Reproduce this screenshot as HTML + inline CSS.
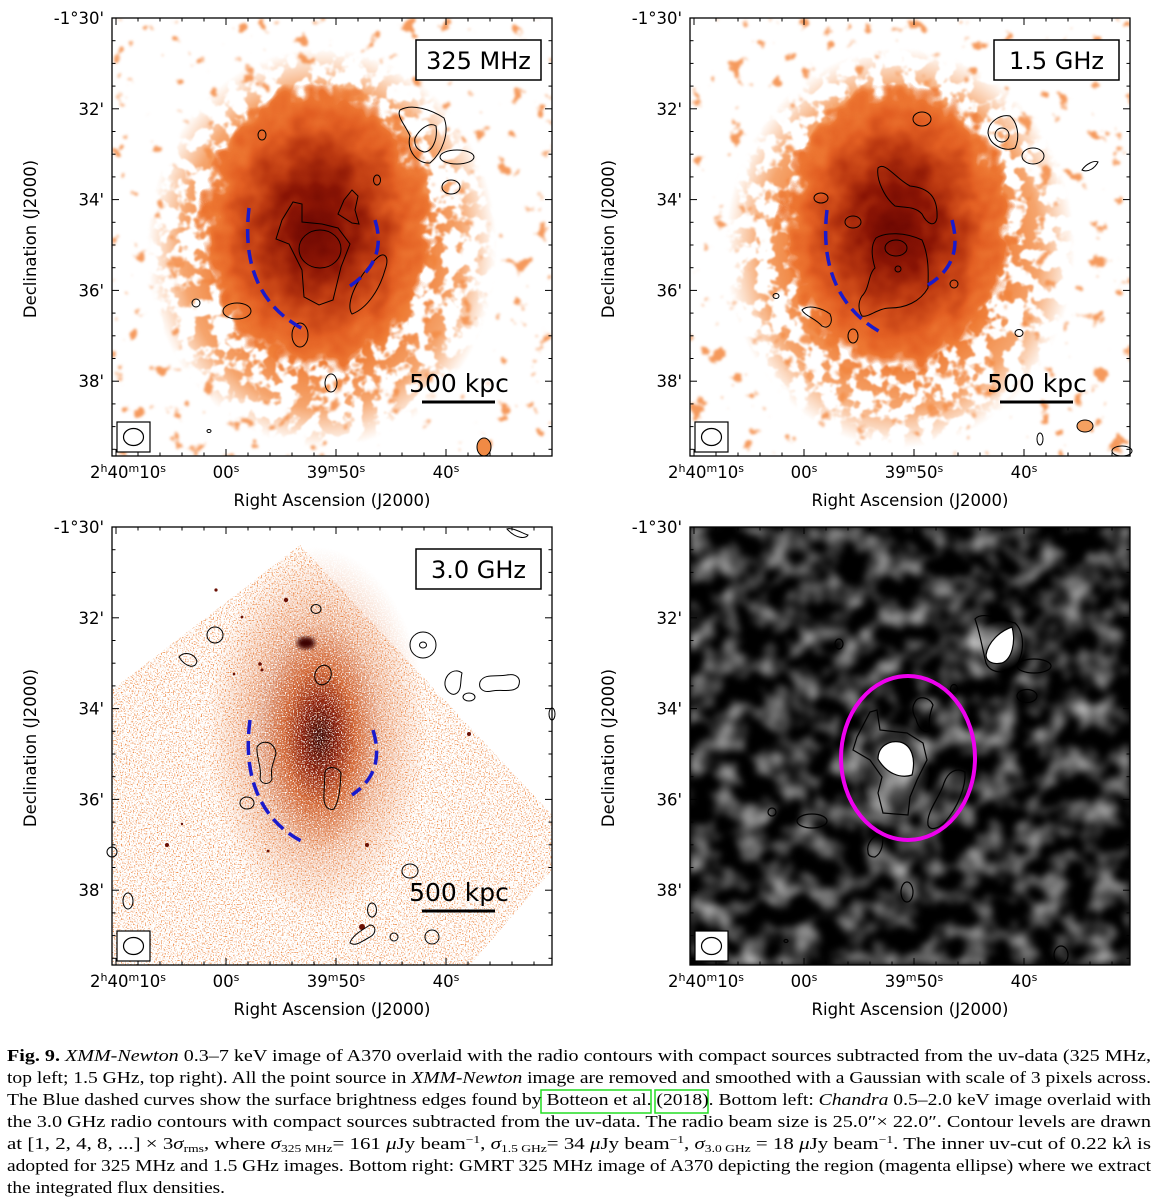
<!DOCTYPE html>
<html><head><meta charset="utf-8">
<style>
html,body{margin:0;padding:0;background:#fff;}
svg{display:block;}
</style></head>
<body>
<svg id="fig" width="1158" height="1200" viewBox="0 0 1158 1200" xmlns="http://www.w3.org/2000/svg" font-family="'DejaVu Sans','Liberation Sans',sans-serif">
<defs>
  <filter id="patchA" x="0" y="0" width="100%" height="100%" color-interpolation-filters="sRGB">
    <feTurbulence type="fractalNoise" baseFrequency="0.055" numOctaves="3" seed="7"/>
    <feColorMatrix type="matrix" values="0 0 0 0 0.96  0 0 0 0 0.6  0 0 0 0 0.36  12 0 0 0 -8.0"/>
    <feGaussianBlur stdDeviation="1.2"/>
  </filter>
  <filter id="patchA2" x="0" y="0" width="100%" height="100%" color-interpolation-filters="sRGB">
    <feTurbulence type="fractalNoise" baseFrequency="0.055" numOctaves="3" seed="21"/>
    <feColorMatrix type="matrix" values="0 0 0 0 0.96  0 0 0 0 0.6  0 0 0 0 0.36  12 0 0 0 -8.0"/>
    <feGaussianBlur stdDeviation="1.2"/>
  </filter>
  <filter id="patchB" x="-10%" y="-10%" width="120%" height="120%" color-interpolation-filters="sRGB">
    <feTurbulence type="fractalNoise" baseFrequency="0.06" numOctaves="3" seed="4"/>
    <feColorMatrix type="matrix" values="0 0 0 0 0  0 0 0 0 0  0 0 0 0 0  10 0 0 0 -4.6" result="g"/>
    <feComposite in="SourceGraphic" in2="g" operator="in"/>
    <feGaussianBlur stdDeviation="0.8"/>
  </filter>
  <filter id="patchB2" x="-10%" y="-10%" width="120%" height="120%" color-interpolation-filters="sRGB">
    <feTurbulence type="fractalNoise" baseFrequency="0.06" numOctaves="3" seed="13"/>
    <feColorMatrix type="matrix" values="0 0 0 0 0  0 0 0 0 0  0 0 0 0 0  10 0 0 0 -4.6" result="g"/>
    <feComposite in="SourceGraphic" in2="g" operator="in"/>
    <feGaussianBlur stdDeviation="0.8"/>
  </filter>
  <filter id="core" x="-20%" y="-20%" width="140%" height="140%" color-interpolation-filters="sRGB">
    <feTurbulence type="fractalNoise" baseFrequency="0.05" numOctaves="2" seed="9" result="t"/>
    <feDisplacementMap in="SourceGraphic" in2="t" scale="40" xChannelSelector="R" yChannelSelector="G"/>
    <feComponentTransfer><feFuncA type="table" tableValues="0 0 0.7 1 1"/></feComponentTransfer>
  </filter>
  <filter id="grain" x="0" y="0" width="100%" height="100%" color-interpolation-filters="sRGB">
    <feTurbulence type="fractalNoise" baseFrequency="0.75" numOctaves="1" seed="3"/>
    <feColorMatrix type="matrix" values="0 0 0 0 0  0 0 0 0 0  0 0 0 0 0  5 0 0 0 -2.6" result="g"/>
    <feComposite in="SourceGraphic" in2="g" operator="in"/>
  </filter>
  <filter id="grainC" x="-10%" y="-10%" width="120%" height="120%" color-interpolation-filters="sRGB">
    <feTurbulence type="fractalNoise" baseFrequency="0.75" numOctaves="1" seed="8"/>
    <feColorMatrix type="matrix" values="0 0 0 0 0  0 0 0 0 0  0 0 0 0 0  4 0 0 0 -1.2" result="g"/>
    <feComposite in="SourceGraphic" in2="g" operator="in"/>
  </filter>
  <filter id="mottle" x="0" y="0" width="100%" height="100%" color-interpolation-filters="sRGB">
    <feTurbulence type="fractalNoise" baseFrequency="0.04" numOctaves="2" seed="11"/>
    <feColorMatrix type="matrix" values="1.5 0 0 0 -0.6  1.5 0 0 0 -0.6  1.5 0 0 0 -0.6  0 0 0 0 1"/>
    <feGaussianBlur stdDeviation="3"/>
  </filter>
  <filter id="soft2"><feGaussianBlur stdDeviation="2.5"/></filter>

  <radialGradient id="midCol">
    <stop offset="0" stop-color="#e2621e"/>
    <stop offset="0.55" stop-color="#ee7a32"/>
    <stop offset="0.8" stop-color="#f38e48" stop-opacity="0.8"/>
    <stop offset="1" stop-color="#f69a58" stop-opacity="0"/>
  </radialGradient>
  <radialGradient id="coreCol" cx="0.5" cy="0.48" r="0.5">
    <stop offset="0" stop-color="#6e0802"/>
    <stop offset="0.25" stop-color="#8a1404"/>
    <stop offset="0.5" stop-color="#bb3810"/>
    <stop offset="0.72" stop-color="#e25e22"/>
    <stop offset="0.86" stop-color="#ec7430" stop-opacity="0.8"/>
    <stop offset="1" stop-color="#f08038" stop-opacity="0"/>
  </radialGradient>
  <radialGradient id="blCol" cx="0.5" cy="0.5" r="0.5">
    <stop offset="0" stop-color="#3a0400"/>
    <stop offset="0.3" stop-color="#8a1a05"/>
    <stop offset="0.6" stop-color="#d45a1e" stop-opacity="0.8"/>
    <stop offset="1" stop-color="#e8783a" stop-opacity="0"/>
  </radialGradient>
  <radialGradient id="brGlow" cx="0.5" cy="0.5" r="0.5">
    <stop offset="0" stop-color="#fff" stop-opacity="0.9"/>
    <stop offset="1" stop-color="#fff" stop-opacity="0"/>
  </radialGradient>

  <clipPath id="clipPanel"><rect x="0" y="0" width="440" height="438"/></clipPath>
  <clipPath id="clipDiamond"><polygon points="188,18 440,288 440,343 358,438 0,438 0,163"/></clipPath>
</defs>

<!-- ================= TOP LEFT ================= -->
<g id="panel-tl" transform="translate(112,18)">
  <g clip-path="url(#clipPanel)">
    <rect width="440" height="438" fill="#fff"/>
    <rect width="440" height="438" fill="#000" filter="url(#patchA)"/>
    <ellipse cx="210" cy="230" rx="175" ry="200" fill="url(#midCol)" filter="url(#patchB)"/>
    <ellipse cx="205" cy="215" rx="120" ry="150" fill="url(#coreCol)" filter="url(#core)"/>
  </g>
  <g fill="none" stroke="#000" stroke-width="1">
    <path d="M164,221 L170,202 L181,184 L190,186 L190,204 L210,206 L226,210 L238,226 L229,249 L221,282 L207,287 L192,279 L190,252 L177,226 Z"/>
    <path d="M226,196 L232,182 L240,172 L246,178 L243,192 L247,206 L240,205 Z"/>
    <ellipse cx="208" cy="231" rx="21" ry="19"/>
    <path d="M240,296 C232,285 248,255 265,240 C272,233 278,238 273,252 C268,270 256,290 240,296 Z"/>
    <path d="M288,92 C300,85 320,92 332,100 C338,115 330,135 318,145 C305,146 294,132 298,118 C294,108 284,98 288,92 Z"/>
    <path d="M303,120 C308,110 318,104 324,108 C326,122 320,134 312,134 C304,132 302,126 303,120 Z"/>
    <ellipse cx="345" cy="139" rx="17" ry="7"/>
    <ellipse cx="339" cy="169" rx="9" ry="7"/>
    <ellipse cx="125" cy="293" rx="14" ry="8"/>
    <ellipse cx="188" cy="317" rx="8" ry="12"/>
    <ellipse cx="219" cy="365" rx="6" ry="9"/>
    <ellipse cx="84" cy="285" rx="4" ry="4"/>
    <ellipse cx="265" cy="162" rx="3.5" ry="5"/>
    <ellipse cx="150" cy="117" rx="4" ry="5"/>
    <ellipse cx="97" cy="413" rx="2" ry="1.5"/>
    <ellipse cx="372" cy="429" rx="7" ry="9" fill="#f08a45"/>
  </g>
  <g fill="none" stroke="#1a1acc" stroke-width="3.5" stroke-dasharray="14,7">
    <path d="M137,190 C130,250 150,290 193,312"/>
    <path d="M263,202 C272,230 262,252 238,268"/>
  </g>
</g>

<!-- ================= TOP RIGHT ================= -->
<g id="panel-tr" transform="translate(690,18)">
  <g clip-path="url(#clipPanel)">
    <rect width="440" height="438" fill="#fff"/>
    <rect width="440" height="438" fill="#000" filter="url(#patchA2)"/>
    <ellipse cx="210" cy="230" rx="175" ry="200" fill="url(#midCol)" filter="url(#patchB2)"/>
    <ellipse cx="207" cy="215" rx="120" ry="150" fill="url(#coreCol)" filter="url(#core)"/>
  </g>
  <g fill="none" stroke="#000" stroke-width="1">
    <path d="M188,150 C195,143 205,160 220,168 C240,170 248,180 247,200 C245,210 237,206 232,196 C225,188 215,190 205,188 C195,180 186,162 188,150 Z"/>
    <path d="M172,278 C180,270 178,256 185,250 C182,240 180,228 186,220 C196,214 215,214 232,222 C240,240 238,260 238,270 C230,284 215,290 200,290 C188,290 178,300 172,298 C168,292 168,284 172,278 Z"/>
    <ellipse cx="206" cy="230" rx="11" ry="8"/>
    <ellipse cx="208" cy="251" rx="3" ry="3"/>
    <path d="M298,115 C298,104 310,96 320,98 C328,105 330,120 325,130 C315,134 300,128 298,115 Z"/>
    <ellipse cx="312" cy="117" rx="7" ry="7"/>
    <ellipse cx="343" cy="138" rx="11" ry="8"/>
    <ellipse cx="232" cy="101" rx="9" ry="7"/>
    <ellipse cx="131" cy="180" rx="7" ry="5"/>
    <ellipse cx="163" cy="204" rx="8" ry="6"/>
    <path d="M112,292 C118,286 132,290 140,296 C144,305 138,312 132,308 C125,300 115,298 112,292 Z"/>
    <ellipse cx="163" cy="318" rx="5" ry="7"/>
    <ellipse cx="264" cy="266" rx="4" ry="4"/>
    <ellipse cx="329" cy="315" rx="4" ry="3.5"/>
    <ellipse cx="395" cy="408" rx="8" ry="6" fill="#f5a060"/>
    <ellipse cx="350" cy="421" rx="3" ry="6"/>
    <ellipse cx="432" cy="433" rx="10" ry="5"/>
    <path d="M392,152 C396,146 404,142 408,144 C405,150 398,155 392,152 Z"/>
    <ellipse cx="86" cy="278" rx="3" ry="2.5"/>
  </g>
  <g fill="none" stroke="#1a1acc" stroke-width="3.5" stroke-dasharray="14,7">
    <path d="M137,192 C130,250 150,292 192,315"/>
    <path d="M262,202 C270,232 262,252 238,267"/>
  </g>
</g>

<!-- ================= BOTTOM LEFT ================= -->
<g id="panel-bl" transform="translate(112,527)">
  <g clip-path="url(#clipPanel)">
    <rect width="440" height="438" fill="#fff"/>
    <g clip-path="url(#clipDiamond)">
      <rect width="440" height="438" fill="#ee9050" filter="url(#grain)"/>
    </g>
    <ellipse cx="205" cy="205" rx="110" ry="185" fill="url(#blCol)" opacity="0.5" filter="url(#grainC)"/>
    <ellipse cx="208" cy="210" rx="60" ry="115" fill="url(#blCol)" filter="url(#grainC)"/>
    <ellipse cx="194" cy="116" rx="9" ry="6" fill="#3a0400" filter="url(#soft2)"/>
    <g fill="#6a1004">
      <circle cx="174" cy="73" r="2.2"/><circle cx="104" cy="63" r="1.6"/><circle cx="130" cy="90" r="1.4"/>
      <circle cx="148" cy="137" r="1.8"/><circle cx="150" cy="143" r="1.5"/><circle cx="122" cy="147" r="1.3"/>
      <circle cx="357" cy="207" r="2"/><circle cx="55" cy="318" r="2"/><circle cx="255" cy="318" r="2"/>
      <circle cx="156" cy="324" r="1.4"/><circle cx="250" cy="400" r="3"/><circle cx="70" cy="297" r="1.2"/>
    </g>
  </g>
  <g fill="none" stroke="#000" stroke-width="1">
    <ellipse cx="211" cy="148" rx="8" ry="10" transform="rotate(20 211 148)"/>
    <ellipse cx="204" cy="82" rx="5" ry="4.5"/>
    <ellipse cx="103" cy="108" rx="8" ry="8"/>
    <path d="M67,130 C72,124 82,126 85,134 C84,142 74,141 67,130 Z"/>
    <ellipse cx="311" cy="118" rx="13" ry="13"/>
    <ellipse cx="311" cy="118" rx="3.5" ry="3"/>
    <path d="M333,158 C332,148 342,140 350,146 C348,154 350,162 345,166 C340,170 334,164 333,158 Z"/>
    <path d="M368,155 C372,146 385,150 395,148 C405,146 410,152 406,160 C400,166 390,162 380,164 C372,166 366,162 368,155 Z"/>
    <ellipse cx="357" cy="170" rx="6" ry="4"/>
    <path d="M145,220 C150,212 162,214 164,226 C162,236 158,240 160,252 C158,258 150,258 148,252 C150,240 144,230 145,220 Z"/>
    <path d="M213,245 C216,238 226,240 229,246 C228,260 228,272 222,282 C215,284 211,278 212,266 Z"/>
    <ellipse cx="135" cy="276" rx="7" ry="6"/>
    <ellipse cx="298" cy="344" rx="8" ry="7"/>
    <ellipse cx="16" cy="374" rx="5" ry="8"/>
    <ellipse cx="260" cy="383" rx="4.5" ry="7"/>
    <path d="M238,416 C240,408 252,402 258,398 C264,398 265,406 258,410 C250,414 244,420 238,416 Z"/>
    <ellipse cx="282" cy="410" rx="4" ry="4"/>
    <ellipse cx="320" cy="410" rx="7" ry="7"/>
    <path d="M395,2 C400,0 410,6 416,8 C414,12 404,12 395,2 Z"/>
    <ellipse cx="0" cy="325" rx="5" ry="5"/>
    <ellipse cx="440" cy="187" rx="3" ry="6"/>
  </g>
  <g fill="none" stroke="#1a1acc" stroke-width="3.5" stroke-dasharray="14,7">
    <path d="M138,193 C130,252 150,295 193,316"/>
    <path d="M261,203 C270,232 262,253 240,268"/>
  </g>
</g>

<!-- ================= BOTTOM RIGHT ================= -->
<g id="panel-br" transform="translate(690,527)">
  <g clip-path="url(#clipPanel)">
    <rect width="440" height="438" fill="#000"/>
    <rect width="440" height="438" fill="#000" filter="url(#mottle)"/>
    <ellipse cx="205" cy="245" rx="35" ry="50" fill="url(#brGlow)" opacity="0.6"/>
    <ellipse cx="311" cy="118" rx="25" ry="25" fill="url(#brGlow)" opacity="0.6"/>
    <path d="M296,128 C298,115 310,104 322,100 C326,115 322,132 312,136 C302,138 296,134 296,128 Z" fill="#fff"/>
    <path d="M188,232 C188,220 198,213 210,215 C222,218 226,232 222,248 C210,252 196,246 188,232 Z" fill="#fff"/>
  </g>
  <g fill="none" stroke="#000" stroke-width="1.2">
    <path d="M285,92 C292,84 310,92 325,96 C336,106 334,130 325,140 C315,148 300,146 296,136 C292,120 290,106 285,92 Z"/>
    <path d="M296,128 C298,115 310,104 322,100 C326,115 322,132 312,136 C302,138 296,134 296,128 Z"/>
    <path d="M188,232 C188,220 198,213 210,215 C222,218 226,232 222,248 C210,252 196,246 188,232 Z"/>
    <path d="M163,223 L167,210 L180,185 L187,183 L190,203 L217,206 L233,216 L237,233 L227,253 L220,270 L218,288 L193,286 L188,266 L192,250 L180,233 Z"/>
    <path d="M225,175 C228,168 240,170 243,178 C240,186 238,195 240,203 C234,208 228,200 226,192 C222,185 222,180 225,175 Z"/>
    <path d="M238,298 C236,285 250,270 254,256 C258,245 266,240 275,245 C276,260 268,280 255,295 C248,302 240,304 238,298 Z"/>
    <ellipse cx="344" cy="139" rx="17" ry="7"/>
    <ellipse cx="337" cy="169" rx="10" ry="6.5"/>
    <ellipse cx="264" cy="162" rx="3.5" ry="4.5"/>
    <ellipse cx="149" cy="117" rx="4" ry="5"/>
    <ellipse cx="122" cy="294" rx="15" ry="7"/>
    <ellipse cx="82" cy="285" rx="4" ry="4"/>
    <path d="M178,325 C176,316 184,308 192,306 C194,316 192,326 185,330 C180,330 178,328 178,325 Z"/>
    <ellipse cx="217" cy="365" rx="6" ry="10"/>
    <ellipse cx="371" cy="428" rx="7" ry="9"/>
    <ellipse cx="96" cy="414" rx="2" ry="1.5"/>
  </g>
  <ellipse cx="218" cy="231" rx="67" ry="82" fill="none" stroke="#ee00ee" stroke-width="4"/>
</g>

<g id="axes"></g>

<g id="caption" font-family="'Liberation Serif',serif" font-size="17" fill="#000">
  <rect x="541" y="1090" width="110" height="23" fill="none" stroke="#22dd22" stroke-width="1.5"/>
  <rect x="655" y="1090" width="53" height="23" fill="none" stroke="#22dd22" stroke-width="1.5"/>
  <text x="7" y="1061" textLength="1144" lengthAdjust="spacingAndGlyphs"><tspan font-weight="bold">Fig. 9.</tspan> <tspan font-style="italic">XMM-Newton</tspan> 0.3–7 keV image of A370 overlaid with the radio contours with compact sources subtracted from the uv-data (325 MHz,</text>
  <text x="7" y="1083" textLength="1144" lengthAdjust="spacingAndGlyphs">top left; 1.5 GHz, top right). All the point source in <tspan font-style="italic">XMM-Newton</tspan> image are removed and smoothed with a Gaussian with scale of 3 pixels across.</text>
  <text x="7" y="1105" textLength="1144" lengthAdjust="spacingAndGlyphs">The Blue dashed curves show the surface brightness edges found by Botteon et al. (2018). Bottom left: <tspan font-style="italic">Chandra</tspan> 0.5–2.0 keV image overlaid with</text>
  <text x="7" y="1127" textLength="1144" lengthAdjust="spacingAndGlyphs">the 3.0 GHz radio contours with compact sources subtracted from the uv-data. The radio beam size is 25.0″× 22.0″. Contour levels are drawn</text>
  <text x="7" y="1149" textLength="1144" lengthAdjust="spacingAndGlyphs">at [1, 2, 4, 8, ...] × 3<tspan font-style="italic">σ</tspan><tspan font-size="11" dy="3">rms</tspan><tspan dy="-3">, where </tspan><tspan font-style="italic">σ</tspan><tspan font-size="11" dy="3">325 MHz</tspan><tspan dy="-3">= 161 </tspan><tspan font-style="italic">μ</tspan>Jy beam<tspan font-size="11" dy="-6">−1</tspan><tspan dy="6">, </tspan><tspan font-style="italic">σ</tspan><tspan font-size="11" dy="3">1.5 GHz</tspan><tspan dy="-3">= 34 </tspan><tspan font-style="italic">μ</tspan>Jy beam<tspan font-size="11" dy="-6">−1</tspan><tspan dy="6">, </tspan><tspan font-style="italic">σ</tspan><tspan font-size="11" dy="3">3.0 GHz</tspan><tspan dy="-3"> = 18 </tspan><tspan font-style="italic">μ</tspan>Jy beam<tspan font-size="11" dy="-6">−1</tspan><tspan dy="6">. The inner uv-cut of 0.22 k</tspan><tspan font-style="italic">λ</tspan> is</text>
  <text x="7" y="1171" textLength="1144" lengthAdjust="spacingAndGlyphs">adopted for 325 MHz and 1.5 GHz images. Bottom right: GMRT 325 MHz image of A370 depicting the region (magenta ellipse) where we extract</text>
  <text x="7" y="1193" textLength="218" lengthAdjust="spacingAndGlyphs">the integrated flux densities.</text>
</g>
</svg>

<script>
// Axis data (world coordinates)
const decMinutes = [30, 32, 34, 36, 38];
const decLabels = ["-1°30'", "32'", "34'", "36'", "38'"];
const raSeconds = [10, 0, -10, -20];
const raLabelsMain = [["2","h","40","m","10","s"], ["00","s"], ["39","m","50","s"], ["40","s"]];
const panelNames = ["325 MHz", "1.5 GHz", "3.0 GHz", null];
const panelOrigins = [[112,18],[690,18],[112,527],[690,527]];

const W = 440, H = 438;
const yScale = m => (m - 30) * 45.4;
const xScale = s => 4 + (10 - s) * 11;

const NS = "http://www.w3.org/2000/svg";
const axes = document.getElementById('axes');
function mk(tag, attrs, parent) {
  const e = document.createElementNS(NS, tag);
  for (const k in attrs) e.setAttribute(k, attrs[k]);
  parent.appendChild(e);
  return e;
}

panelOrigins.forEach((o, pi) => {
  const g = mk('g', {transform: `translate(${o[0]},${o[1]})`}, axes);
  
  
  const frame = mk('rect', {x: 0, y: 0, width: W, height: H, fill: 'none', stroke: '#000', 'stroke-width': 1.3}, g);
  
  
  for (let m = 30; m <= 39.6; m += 0.5) {
    const y = yScale(m);
    const major = Math.abs(m - Math.round(m)) < 1e-6 && Math.round(m) % 2 === 0;
    const L = major ? 7 : 3.5;
    const t1 = mk('line', {x1: 0, y1: y, x2: L, y2: y, stroke: '#000', 'stroke-width': 1}, g);
    
    
    const t2 = mk('line', {x1: W, y1: y, x2: W - L, y2: y, stroke: '#000', 'stroke-width': 1}, g);
    
    
  }
  for (let s = 10; s >= -30; s -= 2) {
    const x = xScale(s);
    if (x < 0 || x > W) continue;
    const major = s % 10 === 0;
    const L = major ? 7 : 3.5;
    const t1 = mk('line', {x1: x, y1: H, x2: x, y2: H - L, stroke: '#000', 'stroke-width': 1}, g);
    
    
    const t2 = mk('line', {x1: x, y1: 0, x2: x, y2: L, stroke: '#000', 'stroke-width': 1}, g);
    
    
  }
  decMinutes.forEach((m, i) => {
    const t = mk('text', {x: -8, y: yScale(m) + 6, 'text-anchor': 'end', 'font-size': 16.5}, g);
    
    
    t.textContent = decLabels[i];
  });
  raSeconds.forEach((s, i) => {
    const t = mk('text', {x: xScale(s) + (i === 0 ? 12 : 0), y: H + 22, 'text-anchor': 'middle', 'font-size': 16.5}, g);
    
    
    const parts = raLabelsMain[i];
    parts.forEach((p, j) => {
      const sup = (p === 'h' || p === 'm' || p === 's');
      const ts = mk('tspan', sup ? {'font-size': 11, dy: -6} : {dy: (j > 0 && ['h','m','s'].includes(parts[j-1])) ? 6 : 0}, t);
      ts.textContent = p;
    });
  });
  const xt = mk('text', {x: W / 2, y: H + 50, 'text-anchor': 'middle', 'font-size': 16.5}, g);
  
  
  xt.textContent = 'Right Ascension (J2000)';
  const yt = mk('text', {x: 0, y: 0, 'text-anchor': 'middle', 'font-size': 16.5, transform: `translate(${-76},${H / 2 + 2}) rotate(-90)`}, g);
  
  
  yt.textContent = 'Declination (J2000)';
  const bb = mk('rect', {x: 5, y: 404, width: 33, height: 30, fill: '#fff', stroke: '#000', 'stroke-width': 1.2}, g);
  
  
  const be = mk('ellipse', {cx: 21.5, cy: 419, rx: 10, ry: 8.5, fill: 'none', stroke: '#000', 'stroke-width': 1.2}, g);
  
  
  if (panelNames[pi]) {
    const lb = mk('rect', {x: 304, y: 22, width: 125, height: 40, fill: '#fff', stroke: '#000', 'stroke-width': 1.5}, g);
    
    
    const lt = mk('text', {x: 366.5, y: 51, 'text-anchor': 'middle', 'font-size': 24}, g);
    
    
    lt.textContent = panelNames[pi];
    const st = mk('text', {x: 347, y: 374, 'text-anchor': 'middle', 'font-size': 25}, g);
    
    
    st.textContent = '500 kpc';
    const sb = mk('line', {x1: 310, y1: 384, x2: 383, y2: 384, stroke: '#000', 'stroke-width': 3}, g);
    
    
  }
});
</script>
</body></html>
